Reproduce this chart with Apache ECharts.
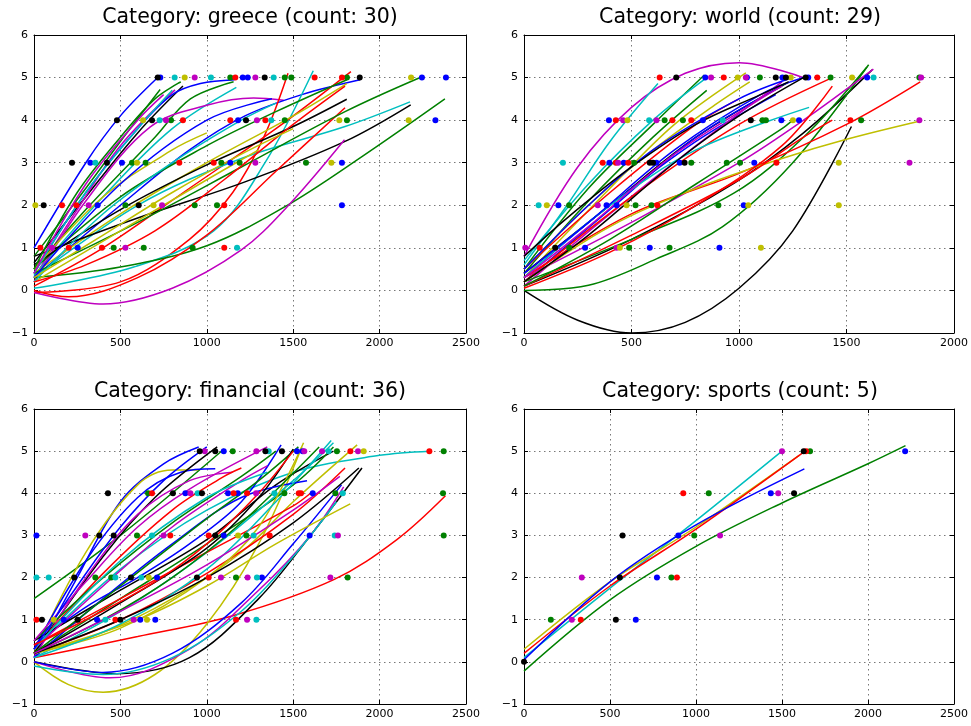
<!DOCTYPE html>
<html><head><meta charset="utf-8">
<script src="https://cdn.jsdelivr.net/npm/echarts@6/dist/echarts.min.js"></script>
<style>html,body{margin:0;padding:0;background:#fff}#c{width:971px;height:726px}</style>
</head><body><div id="c"></div>
<script>
// ---------------- data ----------------
const panelTitles = ['Category: greece (count: 30)', 'Category: world (count: 29)', 'Category: financial (count: 36)', 'Category: sports (count: 5)'];
const xMaxes = [2500, 2000, 2500, 2500];
const xStep = 500;
const yMin = -1, yMax = 6, yStep = 1;
const palette = {b:'#0000ff', g:'#008000', r:'#ff0000', c:'#00bfbf', m:'#bf00bf', y:'#bfbf00', k:'#000000'};

// curves: [series colour key, read points [x, y]]
const greeceCurves = [
 ['b', [[0,1.0],[300,3.0],[500,4.1],[716,5.0]]],
 ['g', [[0,0.8],[300,2.4],[500,3.5],[730,4.72]]],
 ['k', [[0,0.65],[300,2.2],[600,3.7],[862,4.8]]],
 ['m', [[0,0.3],[250,1.9],[500,3.4],[816,4.71]]],
 ['b', [[0,0.4],[300,2.3],[600,3.8],[800,4.6],[963,4.86],[1160,4.95]]],
 ['g', [[0,0.5],[300,1.9],[700,3.6],[905,4.5],[1155,4.9]]],
 ['c', [[0,0.35],[400,2.2],[800,3.8],[1171,4.77]]],
 ['m', [[0,0.2],[300,2.1],[673,3.84],[1000,4.35],[1271,4.52],[1445,4.47]]],
 ['b', [[0,0.3],[500,2.0],[900,3.3],[1221,4.1],[1550,4.6],[1887,4.95]]],
 ['r', [[0,-0.05],[500,0.2],[900,1.2],[1150,2.3],[1330,3.6],[1470,5.1]]],
 ['c', [[0,0.05],[577,0.55],[1040,1.4],[1337,3.0],[1616,5.16]]],
 ['r', [[0,0.1],[400,1.0],[900,2.4],[1400,3.8],[1834,5.14]]],
 ['g', [[0,0.5],[500,2.2],[1000,3.4],[1400,4.2],[1811,4.95]]],
 ['y', [[0,0.4],[500,1.8],[1000,3.0],[1500,4.1],[1810,4.86]]],
 ['k', [[0,0.6],[500,1.9],[1000,2.95],[1500,3.85],[1810,4.49]]],
 ['c', [[0,0.3],[600,2.0],[1200,3.1],[1800,3.85],[2176,4.43]]],
 ['k', [[0,0.8],[600,1.7],[1221,2.55],[1800,3.5],[2180,4.36]]],
 ['g', [[0,0.3],[500,0.55],[1000,1.05],[1453,1.97],[1900,3.15],[2378,4.5]]],
 ['m', [[0,-0.05],[400,-0.32],[800,0.05],[1200,0.95],[1464,1.96],[1797,3.54]]],
 ['r', [[0,0],[200,-0.15],[600,0.3],[1000,1.3],[1400,2.8],[1800,4.29]]],
 ['g', [[0,0.4],[600,1.6],[1200,2.9],[1800,4.2],[2245,5.02]]],
 ['y', [[0,0.5],[400,2.2],[800,3.3],[1000,3.7]]],
 ['y', [[0,0.2],[500,1.4],[1000,2.6],[1300,3.3]]],
 ['c', [[0,0.4],[300,2.3],[600,3.8],[800,4.7]]],
 ['g', [[0,0.5],[250,2.3],[500,3.6],[700,4.5],[850,4.9]]],
 ['b', [[0,0.3],[500,2.5],[1000,4.0],[1377,4.5]]],
 ['c', [[0,0.2],[400,1.8],[800,3.0],[1200,4.0],[1400,4.4]]],
 ['r', [[0,0.2],[300,0.6],[700,1.4],[1100,2.6],[1500,3.9],[1800,4.8]]],
 ['y', [[0,0.3],[400,1.3],[800,2.3],[1200,3.2],[1500,3.8]]],
 ['m', [[0,0.4],[300,2.5],[600,4.0],[750,4.6]]]
];
const greeceDots = [
 [716,5,'k'],[731,5,'b'],[814,5,'c'],[872,5,'y'],[930,5,'m'],[1024,5,'c'],[1136,5,'g'],[1165,5,'r'],[1208,5,'b'],[1237,5,'b'],[1281,5,'m'],[1335,5,'k'],[1387,5,'c'],[1451,5,'g'],[1489,5,'g'],[1624,5,'r'],[1782,5,'r'],[1811,5,'g'],[1885,5,'k'],[2182,5,'y'],[2245,5,'b'],[2384,5,'b'],
 [480,4,'k'],[631,4,'y'],[683,4,'k'],[727,4,'c'],[764,4,'m'],[793,4,'g'],[862,4,'r'],[1136,4,'r'],[1181,4,'b'],[1227,4,'k'],[1290,4,'m'],[1339,4,'r'],[1373,4,'c'],[1451,4,'g'],[1767,4,'y'],[1811,4,'g'],[2168,4,'y'],[2323,4,'b'],
 [220,3,'k'],[326,3,'b'],[355,3,'c'],[422,3,'k'],[509,3,'b'],[567,3,'g'],[596,3,'y'],[646,3,'g'],[841,3,'r'],[1040,3,'r'],[1084,3,'g'],[1136,3,'b'],[1190,3,'g'],[1281,3,'m'],[1574,3,'g'],[1721,3,'y'],[1782,3,'b'],
 [8,2,'y'],[56,2,'k'],[162,2,'r'],[245,2,'r'],[316,2,'m'],[368,2,'b'],[529,2,'g'],[606,2,'k'],[692,2,'y'],[741,2,'m'],[930,2,'g'],[1059,2,'g'],[1101,2,'r'],[1782,2,'b'],
 [37,1,'r'],[104,1,'m'],[201,1,'r'],[253,1,'b'],[393,1,'r'],[461,1,'g'],[529,1,'m'],[635,1,'g'],[918,1,'g'],[1101,1,'r'],[1175,1,'c']
];

const worldCurves = [
 ['k', [[0,0],[250,-0.7],[500,-1.0],[750,-0.75],[1000,0.05],[1250,1.4],[1523,3.85]]],
 ['m', [[0,0.8],[250,2.9],[500,4.3],[750,5.1],[1000,5.35],[1310,4.98]]],
 ['c', [[0,0.6],[200,2.0],[400,3.5],[623,4.86]]],
 ['g', [[0,0.5],[300,2.4],[600,3.9],[839,5.06]]],
 ['g', [[0,0.4],[300,2.1],[600,3.6],[850,4.7]]],
 ['y', [[0,0.3],[400,2.4],[700,3.9],[1032,5.11]]],
 ['r', [[0,0.5],[400,2.3],[800,3.9],[1000,4.5]]],
 ['k', [[0,0.4],[400,2.0],[800,3.6],[1233,4.9]]],
 ['b', [[0,0.2],[400,1.9],[800,3.6],[1200,4.8]]],
 ['b', [[0,0.3],[400,2.0],[800,3.5],[1171,4.6]]],
 ['m', [[0,0.1],[400,1.8],[800,3.4],[1200,4.9]]],
 ['r', [[0,0.2],[500,2.2],[1000,3.9],[1434,5.0]]],
 ['k', [[0,0.1],[500,1.2],[978,2.52],[1300,3.7],[1619,5.18]]],
 ['g', [[0,0],[300,0.12],[616,0.74],[924,1.5],[1250,3.0],[1603,5.3]]],
 ['g', [[0,0.2],[500,1.2],[978,2.29],[1300,3.6],[1595,5.25]]],
 ['m', [[0,0.3],[500,1.6],[1000,3.0],[1300,4.0],[1625,5.2]]],
 ['r', [[0,0.3],[500,1.8],[1000,2.75],[1500,3.9],[1843,4.9]]],
 ['y', [[0,0.2],[400,1.5],[800,2.4],[1200,3.1],[1500,3.55],[1843,3.98]]],
 ['c', [[0,0.3],[400,2.0],[800,3.3],[1326,4.3]]],
 ['r', [[0,0.1],[500,1.3],[1000,2.6],[1300,3.6],[1434,4.0]]],
 ['y', [[0,0.5],[300,2.0],[600,3.3],[900,4.4],[1050,4.9]]],
 ['c', [[0,0.7],[300,2.5],[600,4.0],[850,5.0]]],
 ['b', [[0,0.4],[300,1.6],[700,3.3],[1100,4.6],[1300,5.0]]],
 ['k', [[0,0.2],[300,1.3],[700,3.0],[1000,4.1],[1300,5.0]]],
 ['m', [[0,0.3],[300,1.5],[700,3.2],[1100,4.5],[1200,4.8]]],
 ['g', [[0,0.1],[400,1.2],[800,2.5],[1200,3.8],[1250,4.0]]],
 ['r', [[0,0.05],[400,0.9],[800,2.0],[1200,3.4],[1434,4.8]]],
 ['b', [[0,0.5],[300,2.0],[600,3.3],[1000,4.5],[1250,5.0]]],
 ['k', [[0,0.8],[200,1.7],[500,2.9],[800,3.9],[1100,4.6],[1230,4.9]]]
];
const worldDots = [
 [631,5,'r'],[708,5,'k'],[843,5,'b'],[870,5,'m'],[929,5,'r'],[994,5,'y'],[1032,5,'m'],[1037,5,'b'],[1097,5,'g'],[1171,5,'k'],[1202,5,'b'],[1218,5,'k'],[1241,5,'y'],[1310,5,'k'],[1322,5,'b'],[1364,5,'r'],[1426,5,'g'],[1526,5,'y'],[1596,5,'b'],[1626,5,'c'],[1839,5,'g'],[1847,5,'m'],
 [395,4,'b'],[427,4,'r'],[461,4,'m'],[481,4,'y'],[582,4,'c'],[616,4,'m'],[654,4,'g'],[690,4,'r'],[739,4,'g'],[778,4,'r'],[832,4,'b'],[924,4,'c'],[1055,4,'k'],[1109,4,'g'],[1125,4,'g'],[1197,4,'b'],[1251,4,'y'],[1279,4,'b'],[1518,4,'r'],[1568,4,'g'],[1839,4,'m'],
 [181,3,'c'],[366,3,'r'],[397,3,'b'],[427,3,'r'],[438,3,'m'],[464,3,'b'],[485,3,'r'],[512,3,'g'],[585,3,'k'],[600,3,'k'],[616,3,'b'],[724,3,'b'],[747,3,'k'],[778,3,'g'],[943,3,'g'],[1005,3,'g'],[1071,3,'b'],[1174,3,'r'],[1464,3,'y'],[1793,3,'m'],
 [68,2,'c'],[106,2,'y'],[160,2,'b'],[210,2,'g'],[343,2,'m'],[384,2,'b'],[431,2,'b'],[477,2,'y'],[519,2,'g'],[593,2,'g'],[620,2,'r'],[904,2,'g'],[1022,2,'b'],[1043,2,'y'],[1464,2,'y'],
 [6,1,'m'],[73,1,'r'],[145,1,'k'],[210,1,'g'],[284,1,'b'],[431,1,'m'],[446,1,'y'],[489,1,'g'],[585,1,'b'],[677,1,'g'],[909,1,'b'],[1102,1,'y']
];

const financialCurves = [
 ['g', [[0,1.5],[500,3.0],[1100,5.05]]],
 ['b', [[0,0.1],[250,2.0],[500,3.8],[750,4.7],[953,5.1]]],
 ['y', [[0,0.2],[300,2.6],[600,4.2],[800,4.55],[950,4.55]]],
 ['b', [[0,0.3],[300,2.4],[600,3.9],[850,4.5],[1049,4.58]]],
 ['c', [[0,0.3],[500,2.2],[1000,3.6],[1500,4.5],[2000,4.9],[2290,5.0]]],
 ['r', [[0,0.1],[600,0.6],[1155,1.1],[1735,1.95],[2100,2.9],[2381,3.94]]],
 ['y', [[0,0],[200,-0.54],[400,-0.72],[700,-0.3],[1000,0.9],[1300,2.8],[1550,5.1]]],
 ['k', [[0,0],[480,-0.28],[900,0.1],[1300,1.5],[1600,3.0],[1898,4.6]]],
 ['m', [[0,0],[440,-0.38],[900,0.3],[1300,1.7],[1600,3.0],[1792,4.15]]],
 ['b', [[0,0],[400,-0.25],[800,0.2],[1200,1.4],[1500,2.8],[1780,4.2]]],
 ['c', [[0,-0.1],[400,-0.3],[800,0.1],[1200,1.2],[1500,2.5],[1750,3.8]]],
 ['k', [[0,0.2],[400,2.5],[700,3.9],[1060,5.1]]],
 ['m', [[0,0.1],[300,2.0],[600,3.5],[900,4.3],[1150,4.5]]],
 ['r', [[0,0.3],[400,2.1],[800,3.6],[1100,4.4],[1200,4.6]]],
 ['b', [[0,0.4],[300,1.3],[600,2.0],[900,2.8],[1200,3.8],[1430,5.15]]],
 ['k', [[0,0.5],[500,1.7],[1000,2.9],[1400,4.2],[1733,5.0]]],
 ['g', [[0,0.2],[500,1.5],[1000,2.8],[1500,4.2],[1733,5.1]]],
 ['c', [[0,0.1],[500,1.2],[1000,2.6],[1500,4.3],[1733,5.2]]],
 ['y', [[0,0.2],[400,0.7],[800,1.5],[1200,2.6],[1500,3.8],[1870,5.15]]],
 ['r', [[0,0.2],[500,1.0],[1000,2.1],[1500,3.5],[1800,4.6]]],
 ['r', [[0,0.4],[500,1.5],[1000,2.6],[1500,3.7],[1600,4.0]]],
 ['y', [[0,0.2],[600,1.0],[1000,1.8],[1400,2.8],[1830,3.75]]],
 ['m', [[0,0.3],[400,1.8],[800,3.2],[1200,4.3],[1350,4.65]]],
 ['g', [[0,0.5],[400,2.0],[800,3.3],[1200,4.4],[1400,5.0]]],
 ['b', [[0,0.1],[400,1.5],[800,2.8],[1200,3.9],[1580,4.3]]],
 ['c', [[0,0.3],[500,2.4],[1000,3.9],[1350,4.5]]],
 ['g', [[0,0.2],[500,1.8],[1000,3.4],[1300,4.3],[1530,5.1]]],
 ['k', [[0,0.2],[500,1.4],[1000,2.7],[1300,3.9],[1500,5.05]]],
 ['m', [[0,0.5],[300,1.9],[600,3.2],[900,4.1],[1350,5.1]]],
 ['b', [[0,0.3],[250,1.8],[500,3.2],[750,4.3],[1000,5.1]]],
 ['y', [[0,0.2],[500,0.8],[1000,2.0],[1300,3.2],[1560,5.2]]],
 ['c', [[0,0.1],[500,0.9],[1000,2.2],[1400,3.8],[1720,5.25]]],
 ['r', [[0,0.4],[300,1.0],[700,1.9],[1000,2.8],[1300,4.0],[1500,5.0]]],
 ['g', [[0,0.2],[400,1.0],[800,2.0],[1200,3.3],[1650,5.1]]],
 ['k', [[0,0.2],[500,1.0],[1000,2.0],[1500,3.3],[1880,4.6]]],
 ['m', [[0,0.2],[500,1.2],[1000,2.3],[1500,3.6],[1770,4.4]]]
];
const financialDots = [
 [959,5,'k'],[988,5,'m'],[1049,5,'k'],[1098,5,'b'],[1150,5,'g'],[1287,5,'m'],[1339,5,'k'],[1358,5,'c'],[1435,5,'k'],[1522,5,'b'],[1555,5,'b'],[1564,5,'m'],[1667,5,'m'],[1705,5,'c'],[1753,5,'g'],[1831,5,'r'],[1875,5,'m'],[1908,5,'y'],[2288,5,'r'],[2371,5,'g'],
 [428,4,'k'],[660,4,'g'],[683,4,'r'],[804,4,'k'],[876,4,'b'],[905,4,'m'],[947,4,'c'],[972,4,'k'],[1123,4,'b'],[1155,4,'r'],[1179,4,'b'],[1233,4,'r'],[1285,4,'m'],[1391,4,'c'],[1449,4,'g'],[1532,4,'r'],[1545,4,'r'],[1613,4,'b'],[1744,4,'g'],[1787,4,'c'],[2367,4,'g'],
 [14,3,'b'],[297,3,'m'],[378,3,'k'],[461,3,'k'],[596,3,'g'],[683,3,'c'],[750,3,'m'],[789,3,'r'],[1011,3,'r'],[1049,3,'k'],[1098,3,'b'],[1181,3,'y'],[1229,3,'g'],[1271,3,'c'],[1364,3,'r'],[1595,3,'b'],[1740,3,'c'],[1759,3,'m'],[2371,3,'g'],
 [14,2,'c'],[85,2,'c'],[233,2,'k'],[355,2,'g'],[447,2,'g'],[471,2,'c'],[561,2,'k'],[621,2,'c'],[664,2,'y'],[712,2,'b'],[943,2,'k'],[1011,2,'r'],[1082,2,'m'],[1169,2,'g'],[1236,2,'m'],[1290,2,'c'],[1319,2,'b'],[1715,2,'m'],[1815,2,'g'],
 [14,1,'r'],[46,1,'k'],[114,1,'y'],[172,1,'b'],[253,1,'k'],[365,1,'b'],[413,1,'c'],[471,1,'r'],[500,1,'k'],[577,1,'m'],[615,1,'b'],[654,1,'y'],[702,1,'b'],[1169,1,'r'],[1233,1,'m'],[1287,1,'c']
];

const sportsCurves = [
 ['c', [[0,0.1],[500,1.75],[1000,3.35],[1500,5.0]]],
 ['y', [[0,0.3],[500,1.9],[1000,3.2],[1600,4.9]]],
 ['r', [[0,0.2],[500,1.8],[1000,3.15],[1650,5.05]]],
 ['b', [[0,0.05],[500,1.9],[1000,3.25],[1630,4.58]]],
 ['g', [[0,-0.22],[500,1.47],[1000,2.74],[1500,3.77],[2000,4.7],[2218,5.13]]]
];
const sportsDots = [
 [1500,5,'m'],[1626,5,'k'],[1640,5,'r'],[1663,5,'g'],[2216,5,'b'],
 [926,4,'r'],[1074,4,'g'],[1435,4,'b'],[1478,4,'m'],[1570,4,'k'],
 [573,3,'k'],[897,3,'b'],[990,3,'g'],[1140,3,'m'],
 [336,2,'m'],[557,2,'k'],[773,2,'b'],[857,2,'g'],[889,2,'r'],
 [156,1,'g'],[278,1,'m'],[330,1,'r'],[534,1,'k'],[650,1,'b'],
 [0,0,'k']
];

// ---------------- chart ----------------
const panelCurves = [greeceCurves, worldCurves, financialCurves, sportsCurves];
const panelDots = [greeceDots, worldDots, financialDots, sportsDots];
const gridBoxes = [
 {left:34, top:35, width:432, height:298},
 {left:524, top:35, width:432, height:298},
 {left:34, top:409, width:432, height:295},
 {left:524, top:409, width:432, height:295}
];
const FONT = 'DejaVu Sans';
const gridLineStyle = {color:'#555', width:0.8, type:[1.5,3.5]};
const xAxes = [], yAxes = [], series = [], graphics = [];
gridBoxes.forEach((g, p) => {
  const common = {gridIndex:p, type:'value', min:0, max:xMaxes[p], interval:xStep,
    axisLine:{show:true, onZero:false, lineStyle:{color:'#000', width:1}},
    axisTick:{show:true, inside:true, length:4, lineStyle:{color:'#000'}}};
  xAxes.push(Object.assign({}, common, {position:'bottom',
    axisLabel:{show:true, color:'#000', fontFamily:FONT, fontSize:11, margin:5, formatter: v => String(v)},
    splitLine:{show:true, lineStyle:gridLineStyle}}));
  xAxes.push(Object.assign({}, common, {position:'top', axisLabel:{show:false}, splitLine:{show:false}}));
  const ycommon = {gridIndex:p, type:'value', min:yMin, max:yMax, interval:yStep,
    axisLine:{show:true, onZero:false, lineStyle:{color:'#000', width:1}},
    axisTick:{show:true, inside:true, length:4, lineStyle:{color:'#000'}}};
  yAxes.push(Object.assign({}, ycommon, {position:'left',
    axisLabel:{show:true, color:'#000', fontFamily:FONT, fontSize:11, margin:6,
      formatter: v => (v < 0 ? '\u2212' + Math.abs(v) : String(v))},
    splitLine:{show:true, lineStyle:gridLineStyle}}));
  yAxes.push(Object.assign({}, ycommon, {position:'right', axisLabel:{show:false}, splitLine:{show:false}}));

  panelCurves[p].forEach(([key, pts]) => {
    series.push({type:'line', xAxisIndex:2*p, yAxisIndex:2*p, data:pts, smooth:0.35,
      symbol:'none', silent:true, lineStyle:{color:palette[key], width:1.5}, z:2});
  });
  Object.keys(palette).forEach(key => {
    const d = panelDots[p].filter(e => e[2] === key).map(e => [e[0], e[1]]);
    if (d.length) series.push({type:'scatter', xAxisIndex:2*p, yAxisIndex:2*p, data:d,
      symbolSize:6, itemStyle:{color:palette[key], opacity:1}, silent:true, z:3});
  });
  graphics.push({type:'text', x:g.left + g.width/2, y:(p < 2 ? 18 : 392),
    style:{text:panelTitles[p], fontFamily:FONT, fontSize:20.5, fill:'#000', textAlign:'center', textVerticalAlign:'middle'}});
});

const chart = echarts.init(document.getElementById('c'), null, {renderer:'canvas'});
chart.setOption({
  animation:false,
  backgroundColor:'#fff',
  grid: gridBoxes.map(g => Object.assign({containLabel:false, show:false}, g)),
  xAxis: xAxes, yAxis: yAxes, series: series, graphic: graphics
});
</script></body></html>
